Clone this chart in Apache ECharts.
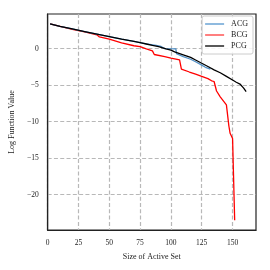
<!DOCTYPE html>
<html><head><meta charset="utf-8">
<script src="https://cdn.jsdelivr.net/npm/echarts@6/dist/echarts.min.js"></script>
<style>html,body{margin:0;padding:0;background:#fff}#c{width:270px;height:270px}</style>
</head><body><div id="c"></div>
<script>
const xTicks = [0, 25, 50, 75, 100, 125, 150];
const yTicks = [-20, -15, -10, -5, 0];
const acgX = [2, 10, 20, 30, 40, 50, 60, 70, 75, 80, 84, 88, 92, 95, 104, 104.5, 110, 116, 120, 125, 128, 132];
const acgY = [3.4, 3.05, 2.7, 2.35, 2.0, 1.65, 1.3, 1.0, 0.82, 0.66, 0.56, 0.46, 0.3, 0.0, -0.02, -0.7, -1.1, -1.45, -1.8, -2.25, -2.55, -2.8];
const bcgX = [2, 20, 30, 40, 42, 50, 60, 70, 75, 80, 85, 86.5, 95, 100, 107, 108.5, 115, 120, 125, 130, 133, 135, 137, 140, 145, 147, 148, 150, 151.5, 151.7];
const bcgY = [3.4, 2.65, 2.3, 1.9, 1.6, 1.3, 0.8, 0.4, 0.27, -0.04, -0.3, -0.8, -1.1, -1.3, -1.55, -2.8, -3.2, -3.5, -3.8, -4.1, -4.4, -4.5, -5.8, -6.6, -7.7, -10.6, -11.6, -12.3, -12.4, -23.5];
const pcgX = [2, 10, 20, 30, 40, 50, 60, 70, 75, 80, 85, 90, 96, 100, 103, 110, 116, 120, 125, 130, 135, 140, 145, 150, 153, 156, 159, 161];
const pcgY = [3.4, 3.05, 2.7, 2.35, 2.0, 1.65, 1.3, 1.0, 0.82, 0.64, 0.45, 0.27, -0.04, -0.2, -0.45, -0.85, -1.2, -1.55, -2.0, -2.45, -2.9, -3.3, -3.8, -4.3, -4.6, -4.85, -5.4, -5.9];

const zip = (xs, ys) => xs.map((x, i) => [x, ys[i]]);
const font = 'Liberation Serif';
const chart = echarts.init(document.getElementById('c'));
const gridLine = { show: true, lineStyle: { color: '#b8b8b8', type: [4, 2.3], width: 1.2 } };
chart.setOption({
  animation: false,
  grid: { left: 44, right: 14, top: 14, bottom: 40, show: true, borderColor: '#222', borderWidth: 1.2, backgroundColor: 'transparent' },
  xAxis: {
    type: 'value', min: 0, max: 169,
    name: 'Size of Active Set', nameLocation: 'middle', nameGap: 23,
    nameTextStyle: { fontFamily: font, fontSize: 8, color: '#222' },
    axisLine: { show: true, onZero: false, lineStyle: { color: '#222', width: 1.2 } },
    axisTick: { show: false, customValues: xTicks },
    axisLabel: { customValues: xTicks, fontFamily: font, fontSize: 7.5, color: '#222', margin: 9 },
    splitLine: Object.assign({ customValues: xTicks }, gridLine)
  },
  yAxis: {
    type: 'value', min: -24.85, max: 4.75,
    name: 'Log Function Value', nameLocation: 'middle', nameGap: 31,
    nameTextStyle: { fontFamily: font, fontSize: 8, color: '#222' },
    axisLine: { show: true, onZero: false, lineStyle: { color: '#222', width: 1.2 } },
    axisTick: { show: false, customValues: yTicks },
    axisLabel: { customValues: yTicks, fontFamily: font, fontSize: 7.5, color: '#222', margin: 9,
      formatter: v => (v < 0 ? '\u2212' + Math.abs(v) : String(v)) },
    splitLine: Object.assign({ customValues: yTicks }, gridLine)
  },
  legend: {
    orient: 'vertical', right: 17, top: 16,
    icon: 'rect', itemWidth: 19, itemHeight: 1.5, itemGap: 3,
    padding: [4, 5, 4, 3],
    backgroundColor: 'rgba(255,255,255,0.85)', borderColor: '#cccccc', borderWidth: 1, borderRadius: 2,
    textStyle: { fontFamily: font, fontSize: 8, color: '#222', padding: [0, 0, 0, 2] },
    data: ['ACG', 'BCG', 'PCG']
  },
  series: [
    { name: 'ACG', type: 'line', symbol: 'none', data: zip(acgX, acgY), lineStyle: { color: '#4f8fc6', width: 1.3 }, itemStyle: { color: '#6aa3d4' }, z: 3 },
    { name: 'BCG', type: 'line', symbol: 'none', data: zip(bcgX, bcgY), lineStyle: { color: '#ff0000', width: 1.3 }, itemStyle: { color: '#ff5555' }, z: 2 },
    { name: 'PCG', type: 'line', symbol: 'none', data: zip(pcgX, pcgY), lineStyle: { color: '#000000', width: 1.3 }, itemStyle: { color: '#222222' }, z: 4 }
  ]
});
</script></body></html>
